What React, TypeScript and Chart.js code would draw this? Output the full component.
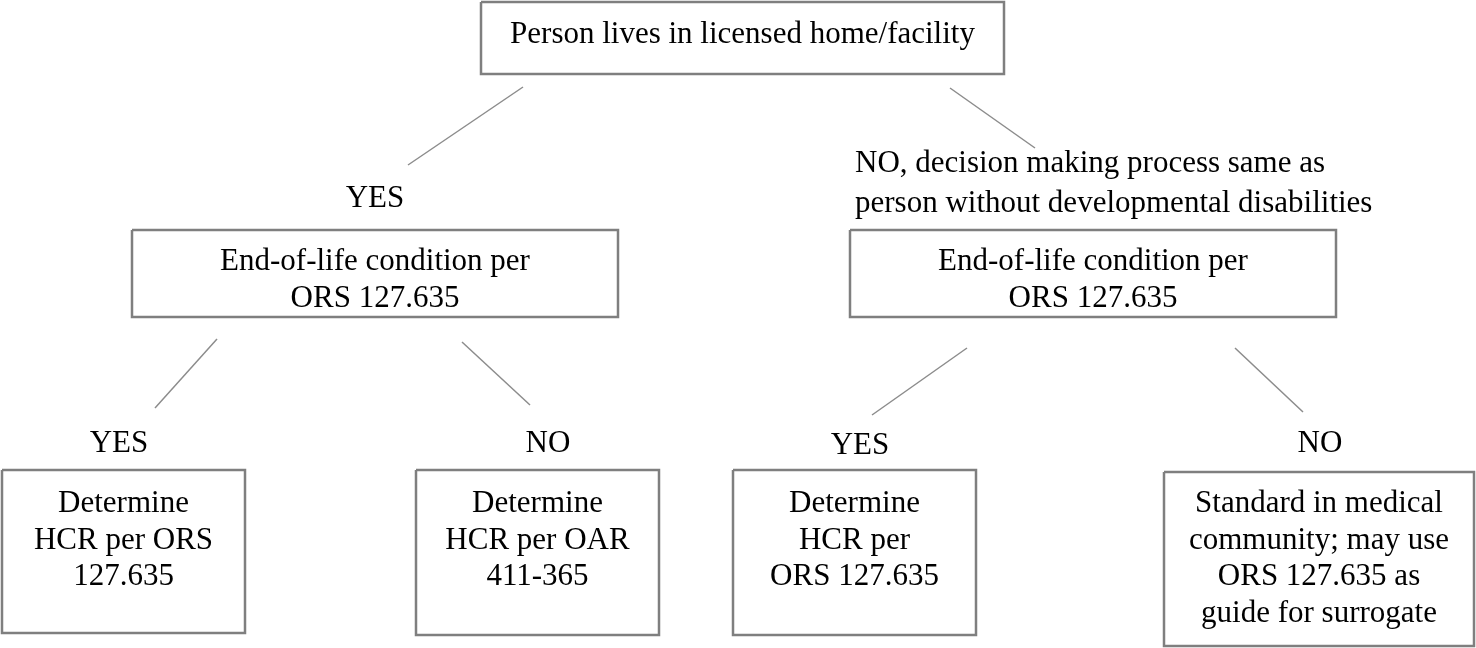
import React, { useEffect, useRef } from "react";
import { Chart, registerables } from "chart.js";

Chart.register(...registerables);

// Flowchart nodes (data units = diagram coordinates)
const nodeLabels: string[][] = [
  ["Person lives in licensed home/facility"],
  ["End-of-life condition per", "ORS 127.635"],
  ["End-of-life condition per", "ORS 127.635"],
  ["Determine", "HCR per ORS", "127.635"],
  ["Determine", "HCR per OAR", "411-365"],
  ["Determine", "HCR per", "ORS 127.635"],
  ["Standard in medical", "community; may use", "ORS 127.635 as", "guide for surrogate"],
];
const nodeLeft = [481, 132, 850, 2, 416, 733, 1164];
const nodeRight = [1004, 618, 1336, 245, 659, 976, 1474];
const nodeTop = [2, 230, 230, 470, 470, 470, 472];
const nodeBottom = [74, 317, 317, 633, 635, 635, 646];
const nodeFirstBaseline = [43, 270, 270, 512, 512, 512, 512];

// Connector lines
const edgeX1 = [523, 950, 217, 462, 967, 1235];
const edgeY1 = [87, 88, 339, 342, 348, 348];
const edgeX2 = [408, 1035, 155, 530, 872, 1303];
const edgeY2 = [165, 148, 408, 405, 415, 412];

// Edge labels
const edgeLabelText: string[][] = [
  ["YES"],
  ["NO, decision making process same as", "person without developmental disabilities"],
  ["YES"],
  ["NO"],
  ["YES"],
  ["NO"],
];
const edgeLabelX = [375, 855, 119, 548, 860, 1320];
const edgeLabelBaseline = [207, 172, 452, 452, 454, 452];
const edgeLabelAlign: CanvasTextAlign[] = ["center", "left", "center", "center", "center", "center"];

const FONT = '31px "Liberation Serif", "Times New Roman", serif';
const LINE_H = 36.5;
const LABEL_LINE_H = 40;

export default function App() {
  const ref = useRef<HTMLCanvasElement | null>(null);

  useEffect(() => {
    if (!ref.current) return;

    const datasets: any[] = [];
    nodeLabels.forEach((_, i) => {
      datasets.push({
        data: [
          { x: nodeLeft[i], y: nodeTop[i] },
          { x: nodeRight[i], y: nodeTop[i] },
          { x: nodeRight[i], y: nodeBottom[i] },
          { x: nodeLeft[i], y: nodeBottom[i] },
          { x: nodeLeft[i], y: nodeTop[i] },
        ],
        showLine: true,
        borderColor: "#7f7f7f",
        borderWidth: 2.5,
        pointRadius: 0,
        fill: false,
        tension: 0,
      });
    });
    edgeX1.forEach((_, i) => {
      datasets.push({
        data: [
          { x: edgeX1[i], y: edgeY1[i] },
          { x: edgeX2[i], y: edgeY2[i] },
        ],
        showLine: true,
        borderColor: "#8c8c8c",
        borderWidth: 1.5,
        pointRadius: 0,
        fill: false,
      });
    });

    const textPlugin = {
      id: "flowText",
      afterDatasetsDraw(chart: any) {
        const ctx = chart.ctx as CanvasRenderingContext2D;
        const xs = chart.scales.x;
        const ys = chart.scales.y;
        ctx.save();
        ctx.fillStyle = "#000000";
        ctx.font = FONT;
        ctx.textBaseline = "alphabetic";
        nodeLabels.forEach((lines, i) => {
          const cx = xs.getPixelForValue((nodeLeft[i] + nodeRight[i]) / 2);
          ctx.textAlign = "center";
          lines.forEach((t, j) => {
            ctx.fillText(t, cx, ys.getPixelForValue(nodeFirstBaseline[i] + j * LINE_H));
          });
        });
        edgeLabelText.forEach((lines, i) => {
          ctx.textAlign = edgeLabelAlign[i];
          lines.forEach((t, j) => {
            ctx.fillText(
              t,
              xs.getPixelForValue(edgeLabelX[i]),
              ys.getPixelForValue(edgeLabelBaseline[i] + j * LABEL_LINE_H)
            );
          });
        });
        ctx.restore();
      },
    };

    const chart = new Chart(ref.current, {
      type: "scatter",
      data: { datasets },
      options: {
        animation: false,
        responsive: true,
        maintainAspectRatio: false,
        layout: { padding: 0 },
        plugins: { legend: { display: false }, tooltip: { enabled: false } },
        scales: {
          x: { type: "linear", min: 0, max: 1476, display: false },
          y: { type: "linear", min: 0, max: 648, reverse: true, display: false },
        },
      },
      plugins: [textPlugin],
    });
    return () => chart.destroy();
  }, []);

  return (
    <div style={{ position: "fixed", left: 0, top: 0, width: 1476, height: 648, background: "#fff" }}>
      <canvas ref={ref} />
    </div>
  );
}
